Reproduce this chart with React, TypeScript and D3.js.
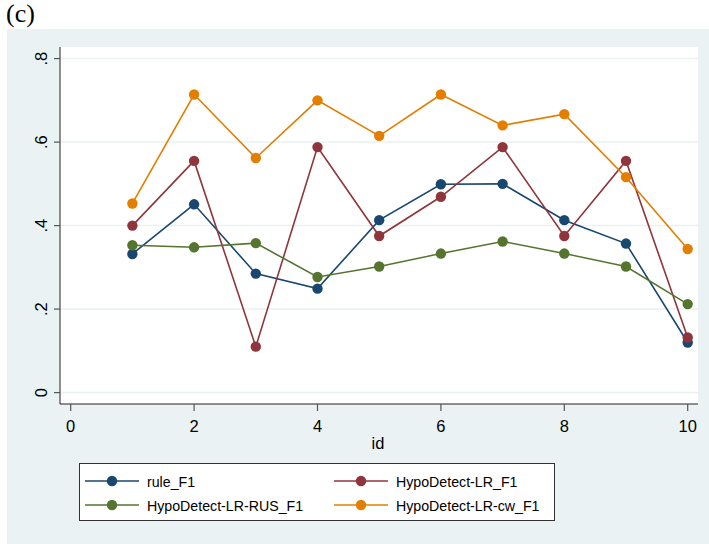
import React from 'react';
import * as d3 from 'd3';

// F1 by id
const ids = [1, 2, 3, 4, 5, 6, 7, 8, 9, 10];
const ruleF1 = [0.332, 0.451, 0.285, 0.249, 0.413, 0.499, 0.5, 0.413, 0.357, 0.12];
const lrF1 = [0.4, 0.555, 0.11, 0.588, 0.375, 0.469, 0.588, 0.375, 0.555, 0.132];
const rusF1 = [0.353, 0.348, 0.358, 0.277, 0.302, 0.333, 0.362, 0.333, 0.302, 0.212];
const cwF1 = [0.453, 0.714, 0.562, 0.7, 0.615, 0.714, 0.64, 0.667, 0.516, 0.344];

const yTicks = [0, 0.2, 0.4, 0.6, 0.8];
const yTickLabels = ['0', '.2', '.4', '.6', '.8'];
const xTicks = [0, 2, 4, 6, 8, 10];

const series = [
  { name: 'rule_F1', values: ruleF1, color: '#1a476f' },
  { name: 'HypoDetect-LR_F1', values: lrF1, color: '#90353b' },
  { name: 'HypoDetect-LR-RUS_F1', values: rusF1, color: '#55752f' },
  { name: 'HypoDetect-LR-cw_F1', values: cwF1, color: '#e37e00' },
];

const W = 709;
const H = 544;
const font = '"Liberation Sans", Arial, sans-serif';

const App = () => {
  const plot = { left: 60, right: 698, top: 47, bottom: 404 };
  const x = d3.scaleLinear().domain([0, 10]).range([70.7, 687.7]);
  const y = d3.scaleLinear().domain([0, 0.8]).range([392.6, 58.6]);

  const line = d3.line<number>()
    .x((_, i) => x(ids[i]))
    .y(d => y(d));

  const legendRows = [
    [series[0], series[1]],
    [series[2], series[3]],
  ];

  return (
    <svg width={W} height={H} style={{ position: 'absolute', left: 0, top: 0, background: '#fff' }}>
      <text x={6} y={22} fontFamily='"Liberation Serif", "Times New Roman", serif' fontSize={26} fill="#000">(c)</text>
      <rect x={7} y={29} width={W - 7} height={H - 29} fill="#eaf2f3" />
      <rect x={plot.left} y={plot.top} width={plot.right - plot.left} height={plot.bottom - plot.top} fill="#fff" />

      {/* grid */}
      {yTicks.map(t => (
        <line key={'g' + t} x1={plot.left} x2={plot.right} y1={y(t)} y2={y(t)} stroke="#eaf2f3" strokeWidth={1.5} />
      ))}

      {/* y axis */}
      <line x1={plot.left} x2={plot.left} y1={plot.top} y2={plot.bottom} stroke="#222" strokeWidth={1} />
      {yTicks.map((t, i) => (
        <g key={'y' + t}>
          <line x1={plot.left - 6} x2={plot.left} y1={y(t)} y2={y(t)} stroke="#555" strokeWidth={1.2} />
          <text
            transform={`translate(${plot.left - 13.5},${y(t)}) rotate(-90)`}
            textAnchor="middle"
            fontFamily={font}
            fontSize={16.5}
            fill="#000"
          >
            {yTickLabels[i]}
          </text>
        </g>
      ))}

      {/* x axis */}
      <line x1={plot.left} x2={plot.right} y1={plot.bottom} y2={plot.bottom} stroke="#222" strokeWidth={1} />
      {xTicks.map(t => (
        <g key={'x' + t}>
          <line x1={x(t)} x2={x(t)} y1={plot.bottom} y2={plot.bottom + 7} stroke="#555" strokeWidth={1.2} />
          <text x={x(t)} y={plot.bottom + 27.5} textAnchor="middle" fontFamily={font} fontSize={16.5} fill="#000">{t}</text>
        </g>
      ))}
      <text x={378} y={449} textAnchor="middle" fontFamily={font} fontSize={16.5} fill="#000">id</text>

      {/* series */}
      {series.map(s => (
        <g key={s.name}>
          <path d={line(s.values) || ''} fill="none" stroke={s.color} strokeWidth={1.6} />
          {s.values.map((v, i) => (
            <circle key={i} cx={x(ids[i])} cy={y(v)} r={5.2} fill={s.color} />
          ))}
        </g>
      ))}

      {/* legend */}
      <rect x={79.5} y={463.5} width={475} height={57} fill="#fff" stroke="#333" strokeWidth={1} />
      {legendRows.map((row, r) =>
        row.map((s, c) => {
          const lx = c === 0 ? 85 : 334;
          const ly = r === 0 ? 481 : 505;
          return (
            <g key={s.name}>
              <line x1={lx} x2={lx + 54} y1={ly} y2={ly} stroke={s.color} strokeWidth={1.6} />
              <circle cx={lx + 27} cy={ly} r={5.2} fill={s.color} />
              <text x={lx + 62} y={ly + 5.5} fontFamily={font} fontSize={14.2} fill="#000">{s.name}</text>
            </g>
          );
        })
      )}
    </svg>
  );
};

export default App;
